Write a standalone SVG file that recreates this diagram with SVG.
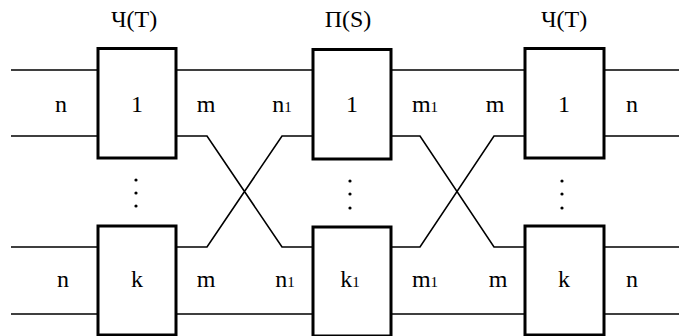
<svg xmlns="http://www.w3.org/2000/svg" width="679" height="336" viewBox="0 0 679 336">
<style>
.box{fill:#fff;stroke:#000;stroke-width:3}
.ln{fill:none;stroke:#000;stroke-width:1.6}
text{font-family:"Liberation Serif","DejaVu Serif",serif;font-size:24px;fill:#000;text-anchor:middle}
tspan.s{font-size:15px}
</style>
<rect width="679" height="336" fill="#fff"/>
<g id="connectors">
<path class="ln" d="M11 70H98M11 136H98M11 247H98M11 314H98"/>
<path class="ln" d="M176 70H313M176 314H313"/>
<path class="ln" d="M176 136H207L282 247H313M176 247H207L282 136H313"/>
<path class="ln" d="M391 70H525M391 314H525"/>
<path class="ln" d="M391 136H420L494 247H525M391 247H420L494 136H525"/>
<path class="ln" d="M604 70H679M604 136H679M604 247H679M604 314H679"/>
</g>
<g id="node-T1-1"><rect class="box" x="98" y="48.5" width="78" height="109.5"/><text x="137" y="112">1</text></g>
<g id="node-T1-k"><rect class="box" x="98" y="226" width="78" height="109"/><text x="137" y="287">k</text></g>
<g id="node-S-1"><rect class="box" x="313" y="49.5" width="78" height="109.5"/><text x="352" y="112">1</text></g>
<g id="node-S-k"><rect class="box" x="313" y="227" width="78" height="109"/><text x="350" y="287">k<tspan class="s">1</tspan></text></g>
<g id="node-T2-1"><rect class="box" x="525" y="48.5" width="79" height="109.5"/><text x="564" y="112">1</text></g>
<g id="node-T2-k"><rect class="box" x="525" y="226" width="79" height="109"/><text x="564" y="287">k</text></g>
<g id="titles">
<text x="134" y="27">Ч(T)</text>
<text x="348" y="27">П(S)</text>
<text x="564" y="27">Ч(T)</text>
</g>
<g id="labels">
<text x="61" y="112">n</text>
<text x="206" y="112">m</text>
<text x="282" y="112">n<tspan class="s">1</tspan></text>
<text x="425" y="112">m<tspan class="s">1</tspan></text>
<text x="495" y="112">m</text>
<text x="632" y="112">n</text>
<text x="63" y="287">n</text>
<text x="206" y="287">m</text>
<text x="285" y="287">n<tspan class="s">1</tspan></text>
<text x="425" y="287">m<tspan class="s">1</tspan></text>
<text x="498" y="287">m</text>
<text x="632" y="287">n</text>
</g>
<g id="dots" fill="#000">
<circle cx="136" cy="180" r="1.6"/><circle cx="136" cy="193" r="1.6"/><circle cx="136" cy="206" r="1.6"/>
<circle cx="350" cy="181" r="1.6"/><circle cx="350" cy="194" r="1.6"/><circle cx="350" cy="208" r="1.6"/>
<circle cx="562" cy="181" r="1.6"/><circle cx="562" cy="194" r="1.6"/><circle cx="562" cy="208" r="1.6"/>
</g>
</svg>
